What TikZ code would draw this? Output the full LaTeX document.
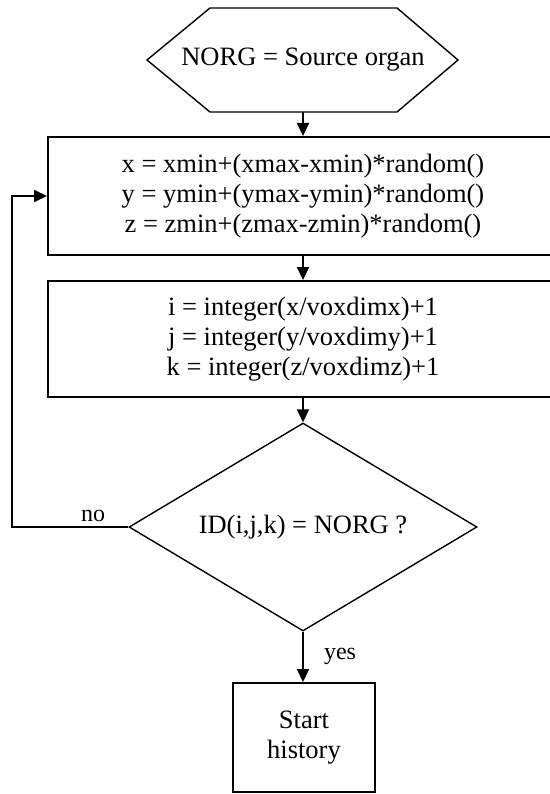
\documentclass[tikz,border=0pt]{standalone}
\usepackage{fontspec}
\setmainfont{Liberation Serif}
\usetikzlibrary{arrows.meta,shapes.geometric}

\begin{document}
\begin{tikzpicture}[x=1pt,y=-1pt,
  every node/.style={font=\fontsize{26.5}{30}\selectfont, align=center, inner sep=0pt},
  procbox/.style={draw, line width=2pt, minimum width=510pt},
  decision/.style={draw, diamond, aspect=1.673, line width=1.4pt,
                   minimum width=348pt, minimum height=208pt},
  arr/.style={line width=2pt, -{Triangle[length=13pt,width=12pt]}},
  lbl/.style={font=\fontsize{24}{28}\selectfont}
]
\useasboundingbox (0,0) rectangle (549,794);

% start: the source organ, drawn as a hexagon around its label
\node (hex) at (303,60) {NORG = Source organ};
\draw[line width=1.4pt]
  (hex.center) ++(-156,0) -- ++(63,-52) -- ++(187,0) -- ++(61,52)
  -- ++(-61,52) -- ++(-187,0) -- cycle;
\coordinate (hexbot) at (303,112);

% random point inside the bounding box
\node[procbox, minimum height=118pt] (pos) at (303,196)
  {x = xmin+(xmax-xmin)*random()\\
   y = ymin+(ymax-ymin)*random()\\
   z = zmin+(zmax-zmin)*random()};

% voxel indices of that point
\node[procbox, minimum height=116pt] (vox) at (303,339)
  {i = integer(x/voxdimx)+1\\
   j = integer(y/voxdimy)+1\\
   k = integer(z/voxdimz)+1};

% test of the organ identifier
\node[decision] (test) at (303,527) {ID(i,j,k) = NORG ?};

% accepted point
\node[draw, line width=2pt, minimum width=142pt, minimum height=109pt]
  (hist) at (304,737.5) {Start\\history};

% connectors
\draw[arr] (hexbot) -- (pos.north);
\draw[arr] (pos.south) -- (vox.north);
\draw[arr] (vox.south) -- (test.north);
\draw[arr] (test.south) -- (test.south |- hist.north)
  node[lbl, pos=0.5, right=20pt] {yes};
\coordinate (loop) at (12,527);
\draw[arr] (test.west) -- (loop) |- (pos.west);
\node[lbl, anchor=south] (no) at (93,522) {no};
\end{tikzpicture}
\end{document}
